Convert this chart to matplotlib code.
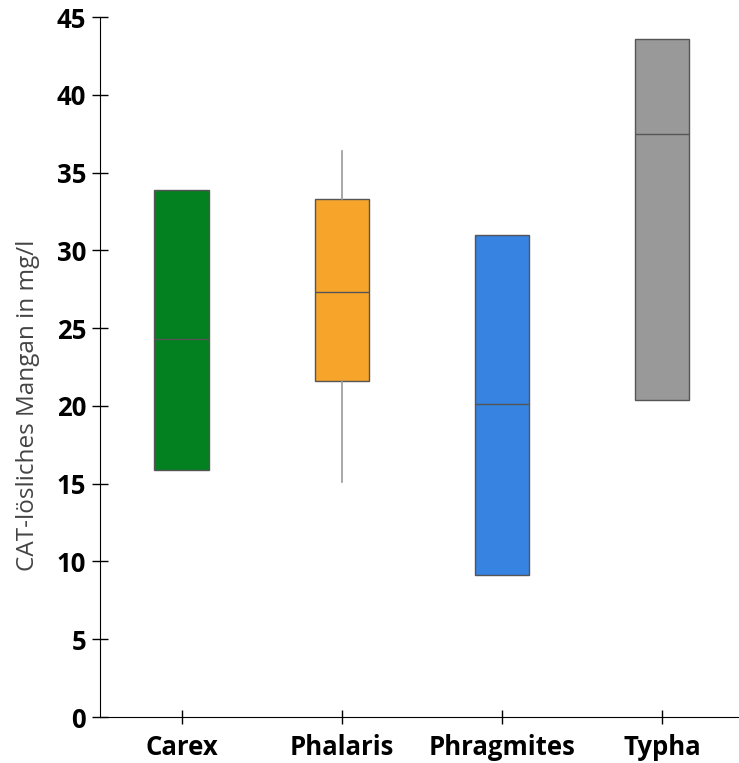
import matplotlib
matplotlib.use("Agg")
import matplotlib.pyplot as plt

species = ["Carex", "Phalaris", "Phragmites", "Typha"]
whisker_low = [15.9, 15.1, 9.1, 20.4]
q1 = [15.9, 21.6, 9.1, 20.4]
median = [24.3, 27.3, 20.1, 37.5]
q3 = [33.9, 33.3, 31.0, 43.6]
whisker_high = [33.9, 36.4, 31.0, 43.6]
colors = ["#038020", "#F7A52A", "#3783E1", "#999999"]

plt.rcParams["font.family"] = ["Open Sans", "DejaVu Sans"]

fig = plt.figure(figsize=(7.39, 7.63), dpi=100)
ax = fig.add_axes([100 / 739, 46 / 763, 639 / 739, 700 / 763])

stats = []
for i, name in enumerate(species):
    stats.append({
        "label": name, "whislo": whisker_low[i], "q1": q1[i], "med": median[i],
        "q3": q3[i], "whishi": whisker_high[i], "fliers": [],
    })

bp = ax.bxp(stats, positions=range(len(species)), widths=0.34, patch_artist=True,
            showcaps=False, showfliers=False,
            boxprops=dict(edgecolor="#555555", linewidth=1.0),
            medianprops=dict(color="#555555", linewidth=1.0),
            whiskerprops=dict(color="#999999", linewidth=1.2))
for patch, col in zip(bp["boxes"], colors):
    patch.set_facecolor(col)

ax.set_xlim(-0.51, 3.48)
ax.set_ylim(0, 45)
ax.set_yticks(range(0, 46, 5))
ax.set_xticks(range(len(species)))
ax.set_xticklabels(species, fontsize=18.5, fontweight="bold")
ax.tick_params(axis="y", labelsize=18.5, direction="inout", length=12, width=1, pad=4)
ax.tick_params(axis="x", direction="inout", length=10, width=1, pad=7)
for lbl in ax.get_yticklabels():
    lbl.set_fontweight("bold")
ax.set_ylabel("CAT-lösliches Mangan in mg/l", fontsize=17.5, color="#444444")
ax.yaxis.set_label_coords(-0.094, 0.445)
ax.spines["top"].set_visible(False)
ax.spines["right"].set_visible(False)

fig.savefig("out.png", dpi=100)
